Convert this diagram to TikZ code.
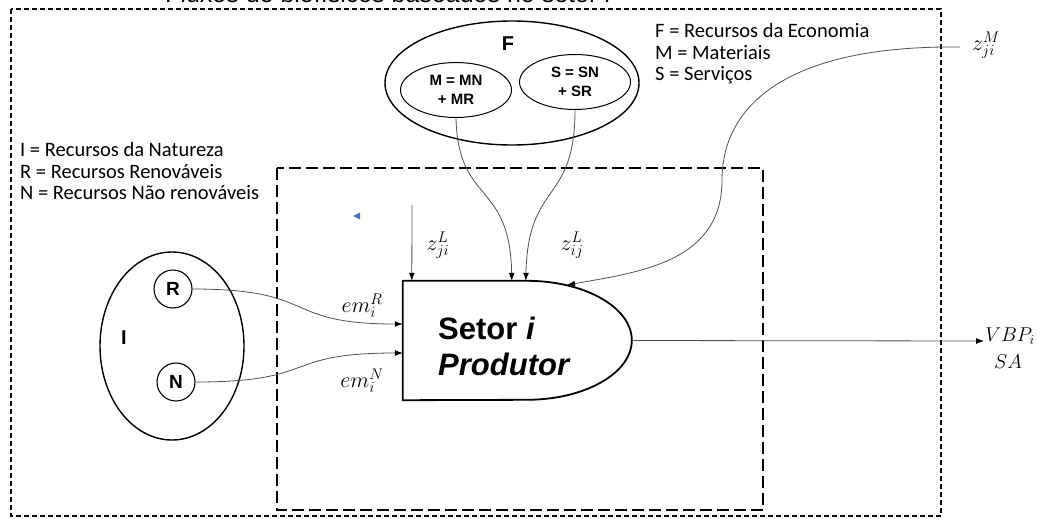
\documentclass[tikz,border=0pt]{standalone}
\usepackage{fix-cm}
\usepackage{fontspec}
\newfontfamily\arial{Liberation Sans}
\newfontfamily\calib{Carlito}
\usetikzlibrary{shapes.geometric,arrows.meta,calc}
\definecolor{linkgray}{RGB}{80,80,80}
\definecolor{markblue}{RGB}{68,114,196}
\begin{document}
\begin{tikzpicture}[x=1pt,y=-1pt,
  set/.style={draw, ellipse, line width=1.4pt, inner sep=0pt},
  subset/.style={draw, ellipse, line width=1pt, inner sep=0pt, align=center,
    minimum width=111pt, minimum height=55pt,
    font=\arial\bfseries\fontsize{15}{19}\selectfont},
  res/.style={draw, circle, line width=1.1pt, minimum size=38pt, inner sep=0pt,
    font=\arial\bfseries\fontsize{19}{20}\selectfont},
  setlabel/.style={font=\arial\bfseries\fontsize{20}{22}\selectfont},
  flow/.style={draw=linkgray, line width=0.8pt, -{Latex[length=8pt,width=6pt,color=black]}},
  legend/.style={anchor=west, align=left, inner sep=0pt,
    font=\calib\fontsize{20.5}{21.5}\selectfont},
  lab/.style={font=\fontsize{22}{23}\selectfont},
]
\useasboundingbox (0,0) rectangle (1038,519);

% title line, cut by the page edge
\node[anchor=base west, inner sep=0pt, font=\arial\fontsize{25}{27}\selectfont]
  (title) at (165,3) {Fluxos de biofísicos baseados no setor i};

% system boundaries
\draw[line width=1.5pt, dash pattern=on 5pt off 3pt] (11,9) rectangle (941,516);
\draw[line width=1.5pt, dash pattern=on 12pt off 5pt] (277,168) rectangle (763,510);

% economy resources
\node[set, minimum width=254pt, minimum height=124pt] (F) at (512,83) {};
\node[setlabel] (Flab) at (508,44) {F};
\node[subset] (M) at (456,90) {M = MN\\+ MR};
\node[subset] (S) at (575,82) {S = SN\\+ SR};

\node[legend] (legF) at (655,54) {F = Recursos da Economia\\M = Materiais\\S = Serviços};

% nature resources
\node[legend] (legI) at (20,171) {I = Recursos da Natureza\\R = Recursos Renováveis\\N = Recursos Não renováveis};
\node[set, minimum width=144pt, minimum height=188pt] (I) at (172,346) {};
\node[setlabel] (Ilab) at (124,338) {I};
\node[res] (R) at (173,289) {R};
\node[res] (N) at (176,382) {N};

% producing sector
\node[minimum width=229pt, minimum height=119pt, inner sep=0pt] (setor) at (517.5,340.5) {};
\draw[line width=1.8pt] (setor.north west) -- ++(124,0)
  arc[start angle=90, end angle=-90, x radius=105pt, y radius=59.5pt]
  -- (setor.south west) -- cycle;
\node[anchor=west, align=left, inner sep=0pt,
  font=\arial\bfseries\fontsize{31}{36}\selectfont] (setorlab) at (438,346)
  {Setor \textit{i}\\\textit{Produtor}};

\coordinate (inZL) at ($(setor.north west)+(9,0)$);
\coordinate (inM)  at ($(setor.north west)+(109,0)$);
\coordinate (inS)  at ($(setor.north west)+(123,0)$);
\coordinate (inZM) at (567,285);
\coordinate (inR)  at ($(setor.west)+(0,-16.5)$);
\coordinate (inN)  at ($(setor.west)+(0,12.5)$);
\coordinate (srcZL) at (412,205);
\coordinate (srcZM) at (960,47);
\coordinate (sink) at (984,341);

% flows
\draw[flow] (srcZL) -- (inZL);
\draw[flow] (M.south) .. controls (458,205) and (510,180) .. (inM);
\draw[flow] (S.south) .. controls (575,205) and (528,180) .. (inS);
\draw[flow] (srcZM) .. controls (780,45) and (722,110) .. (722,180)
  .. controls (722,262) and (640,272) .. (inZM);
\draw[flow] (R.east) .. controls (320,289) and (280,324) .. (inR);
\draw[flow] (N.east) .. controls (320,382) and (280,353) .. (inN);
\draw[flow] (setor.east) -- (sink);

% flow labels
\node[lab] (zLji) at (438,245) {$z_{ji}^{L}$};
\node[lab] (zLij) at (572,245) {$z_{ij}^{L}$};
\node[lab] (zMji) at (986,45) {$z_{ji}^{M}$};
\node[lab] (emR) at (362,306) {$em_{i}^{R}$};
\node[lab] (emN) at (362,381) {$em_{i}^{N}$};
\node[font=\fontsize{20}{22}\selectfont] (vbp) at (1010,336) {$VBP_i$};
\node[font=\fontsize{20}{22}\selectfont] (sa) at (1008,362) {$SA$};

% small marker
\fill[markblue] (353,216) -- (360,212.5) -- (360,219.5) -- cycle;
\end{tikzpicture}
\end{document}
